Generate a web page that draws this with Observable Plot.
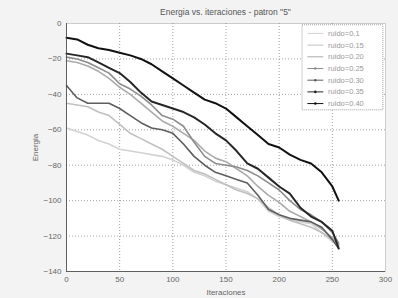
<!DOCTYPE html>
<html>
<head>
<meta charset="utf-8">
<script src="https://cdn.jsdelivr.net/npm/d3@7"></script>
<script src="https://cdn.jsdelivr.net/npm/@observablehq/plot@0.6"></script>
<style>
  body { margin: 0; background: #f3f3f3; width: 398px; height: 298px; overflow: hidden; }
  #title { font: 8.5px "Liberation Sans", Arial, sans-serif; height: 18px; line-height: 24px; margin-left: 66px; width: 319px; text-align: center;
           color: #555; }
</style>
</head>
<body>
<div id="title">Energia vs. iteraciones - patron "5"</div>
<div id="chart"></div>
<script>
const iteraciones = [0,10,20,30,40,50,60,70,80,90,100,110,120,130,140,150,160,170,180,190,200,210,220,230,240,250,256];
const series = ["ruido=0.1","ruido=0.15","ruido=0.20","ruido=0.25","ruido=0.30","ruido=0.35","ruido=0.40"];
const r010 = [-59,-61,-63,-66,-68,-71,-72,-73,-74,-75,-77,-80,-84,-86,-89,-91,-93,-95,-99,-106,-109,-111,-112,-113,-118,-123,-126];
const r015 = [-45,-46,-47,-50,-52,-57,-62,-65,-68,-71,-75,-79,-83,-85,-88,-91,-94,-96,-99,-104,-108,-111,-113,-115,-118,-122,-125];
const r020 = [-21,-22,-24,-27,-31,-36,-40,-45,-50,-55,-58,-62,-66,-72,-76,-78,-82,-86,-92,-97,-101,-106,-109,-112,-116,-121,-125];
const r025 = [-19,-20,-22,-25,-28,-34,-37,-41,-46,-52,-54,-58,-67,-75,-79,-80,-81,-83,-86,-90,-94,-100,-105,-108,-112,-118,-124];
const r030 = [-35,-42,-45,-45,-45,-48,-52,-56,-59,-60,-62,-68,-75,-80,-84,-86,-88,-90,-97,-105,-108,-110,-111,-112,-115,-122,-127];
const r035 = [-17,-18,-19,-22,-25,-28,-33,-39,-44,-46,-48,-50,-53,-57,-62,-66,-72,-79,-82,-87,-92,-96,-104,-109,-112,-117,-127];
const r040 = [-8,-9,-12,-14,-15,-16.5,-18,-20,-23,-27,-31,-35,-39,-43,-45,-48,-53,-58,-63,-68,-70,-74,-77,-79,-84,-92,-100];
const xTicks = [0,50,100,150,200,250,300];
const yTicks = [0,-20,-40,-60,-80,-100,-120,-140];
const colors = ["#d2d2d2","#c0c0c0","#ababab","#8c8c8c","#5e5e5e","#262626","#111111"];

const values = [r010, r015, r020, r025, r030, r035, r040];
const table = series.flatMap((s, k) => iteraciones.map((it, i) => ({serie: s, it, e: values[k][i]})));

const legendRows = series.map((s, i) => ({serie: s, y: -5.6 - i * 6.6}));

const grid = {stroke: "#8a8a8a", strokeOpacity: 1, strokeDasharray: "1,2", strokeWidth: 0.8};

const chart = Plot.plot({
  width: 398, height: 280,
  marginLeft: 66, marginRight: 13, marginTop: 5, marginBottom: 27,
  x: {domain: [0, 300]},
  y: {domain: [-140, 0]},
  color: {domain: series, range: colors},
  style: {background: "transparent", fontFamily: "'Liberation Sans', Arial, sans-serif", fontSize: "8px", color: "#666"},
  marks: [
    Plot.frame({fill: "white", stroke: "#888", strokeWidth: 0.8, strokeDasharray: "1,1"}),
    Plot.gridX(xTicks.slice(1, -1), grid),
    Plot.gridY(yTicks.slice(1, -1), grid),
    ...series.map(s => Plot.line(table.filter(d => d.serie === s), {x: "it", y: "e", stroke: "serie", strokeWidth: s >= "ruido=0.35" ? 2 : 1.6})),
    Plot.axisX({ticks: xTicks, tickSize: 0, tickPadding: 5, label: "Iteraciones", labelAnchor: "center", labelOffset: 23, labelArrow: "none"}),
    Plot.axisY({ticks: yTicks, tickSize: 0, tickPadding: 5, label: "Energia", labelAnchor: "center", labelOffset: 34, labelArrow: "none"}),
    Plot.ruleX([0], {stroke: "#444", strokeWidth: 0.8}),
    Plot.ruleY([-140], {stroke: "#444", strokeWidth: 0.8}),
    Plot.rect([0], {x1: () => 222, x2: () => 298, y1: () => -1, y2: () => -49, fill: "white", stroke: "#888", strokeDasharray: "1,1", strokeWidth: 0.8}),
    Plot.ruleY(legendRows, {x1: () => 227, x2: () => 242, y: "y", stroke: "serie", strokeWidth: 1}),
    Plot.dot(legendRows.slice(3), {x: () => 234, y: "y", fill: "serie", r: 1.3}),
    Plot.text(legendRows, {x: () => 246, y: "y", text: "serie", textAnchor: "start", fill: "#999", fontSize: 7.5})
  ]
});
document.getElementById("chart").appendChild(chart);
</script>
</body>
</html>
